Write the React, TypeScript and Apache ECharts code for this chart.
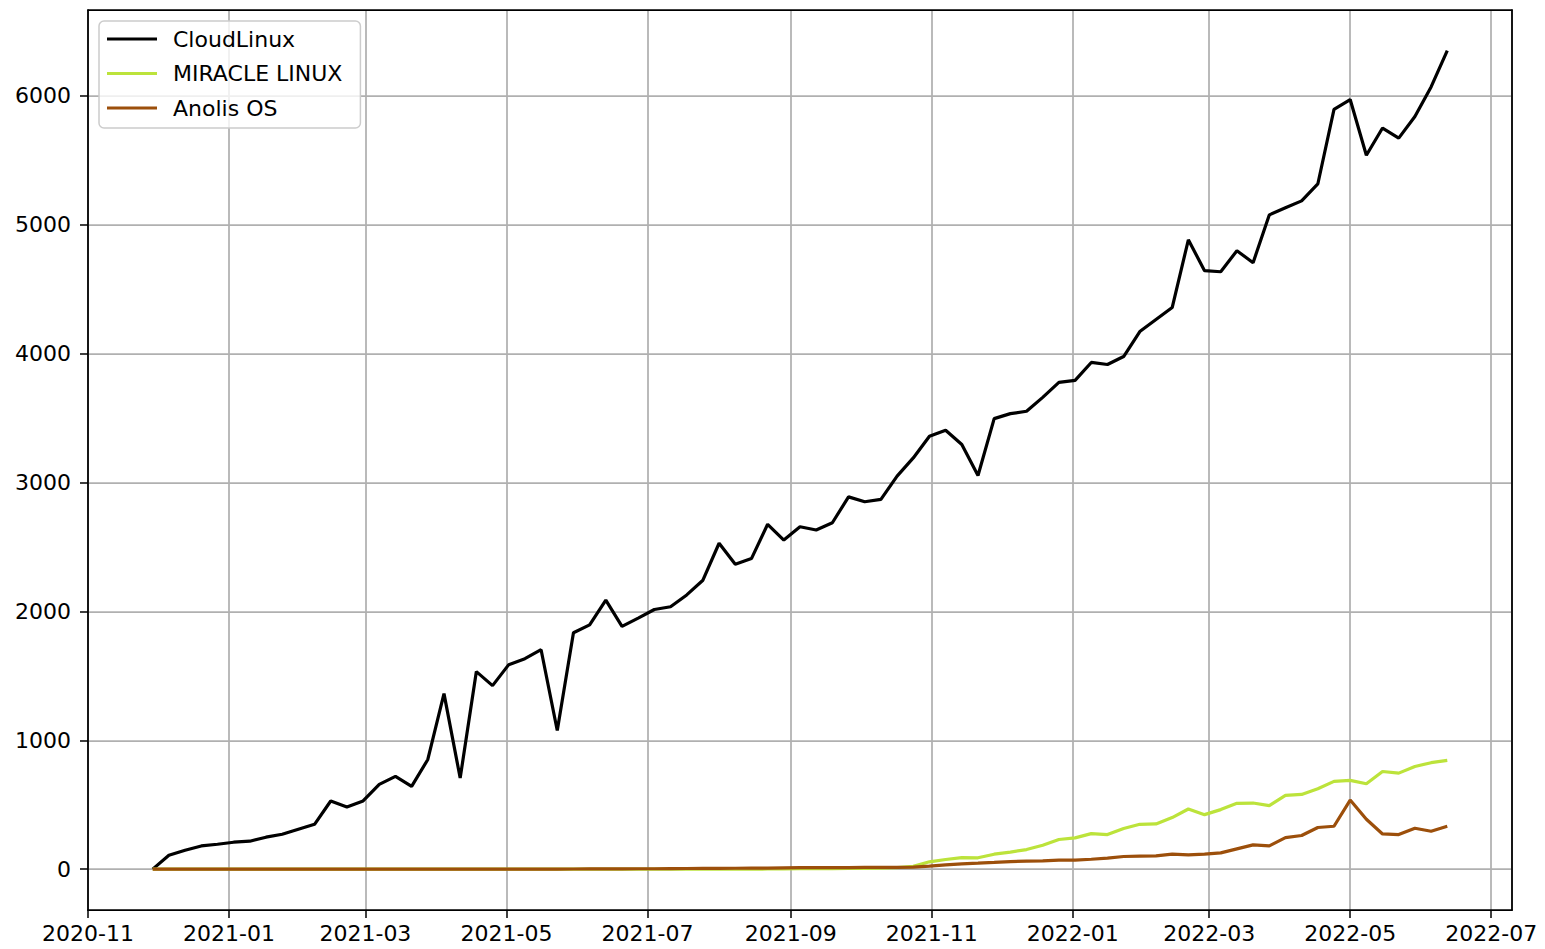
import React, { useEffect, useRef } from 'react';
import * as echarts from 'echarts';

const dates = [
  '2020-11-29', '2020-12-06', '2020-12-13', '2020-12-20', '2020-12-27',
  '2021-01-03', '2021-01-10', '2021-01-17', '2021-01-24', '2021-01-31',
  '2021-02-07', '2021-02-14', '2021-02-21', '2021-02-28',
  '2021-03-07', '2021-03-14', '2021-03-21', '2021-03-28',
  '2021-04-04', '2021-04-11', '2021-04-18', '2021-04-25',
  '2021-05-02', '2021-05-09', '2021-05-16', '2021-05-23', '2021-05-30',
  '2021-06-06', '2021-06-13', '2021-06-20', '2021-06-27',
  '2021-07-04', '2021-07-11', '2021-07-18', '2021-07-25',
  '2021-08-01', '2021-08-08', '2021-08-15', '2021-08-22', '2021-08-29',
  '2021-09-05', '2021-09-12', '2021-09-19', '2021-09-26',
  '2021-10-03', '2021-10-10', '2021-10-17', '2021-10-24', '2021-10-31',
  '2021-11-07', '2021-11-14', '2021-11-21', '2021-11-28',
  '2021-12-05', '2021-12-12', '2021-12-19', '2021-12-26',
  '2022-01-02', '2022-01-09', '2022-01-16', '2022-01-23', '2022-01-30',
  '2022-02-06', '2022-02-13', '2022-02-20', '2022-02-27',
  '2022-03-06', '2022-03-13', '2022-03-20', '2022-03-27',
  '2022-04-03', '2022-04-10', '2022-04-17', '2022-04-24',
  '2022-05-01', '2022-05-08', '2022-05-15', '2022-05-22', '2022-05-29',
  '2022-06-05', '2022-06-12',
];

const cloudLinux = [
  0, 108, 147, 180, 193, 209, 217, 248, 271, 310,
  348, 529, 482, 529, 658, 720, 642, 851, 1362, 707,
  1533, 1424, 1587, 1633, 1703, 1076, 1834, 1896, 2088, 1884,
  1948, 2015, 2036, 2128, 2242, 2529, 2366, 2410, 2676, 2554,
  2657, 2632, 2688, 2889, 2851, 2869, 3050, 3191, 3359, 3406,
  3295, 3055, 3496, 3535, 3553, 3661, 3777, 3793, 3932, 3916,
  3978, 4172, 4265, 4358, 4884, 4644, 4636, 4799, 4706, 5077,
  5132, 5186, 5317, 5896, 5972, 5540, 5751, 5673, 5840, 6070,
  6352,
];

const miracleLinux = [
  0, 0, 0, 0, 0, 0, 0, 0, 0, 0,
  0, 0, 0, 0, 0, 0, 0, 0, 0, 0,
  0, 0, 0, 0, 0, 0, 0, 0, 0, 0,
  0, 0, 0, 0, 0, 0, 0, 0, 1, 2,
  3, 3, 4, 5, 6, 8, 12, 22, 57, 75,
  90, 88, 116, 132, 152, 186, 230, 243, 276, 268,
  315, 348, 351, 400, 467, 423, 462, 511, 513, 493,
  573, 580, 624, 681, 689, 663, 758, 745, 797, 826,
  844,
];

const anolisOS = [
  0, 0, 0, 0, 0, 0, 0, 0, 0, 0,
  0, 0, 0, 0, 0, 0, 0, 0, 0, 0,
  0, 0, 0, 0, 0, 0, 1, 2, 2, 2,
  3, 3, 4, 5, 6, 6, 7, 8, 8, 10,
  12, 12, 12, 12, 13, 14, 14, 16, 23, 33,
  41, 46, 52, 59, 62, 64, 70, 70, 77, 85,
  98, 101, 103, 116, 111, 116, 126, 157, 188, 180,
  245, 261, 323, 333, 536, 387, 273, 268, 317, 294,
  333,
];

const seriesNames = ['CloudLinux', 'MIRACLE LINUX', 'Anolis OS'];
const seriesColors = ['#000000', '#bce33b', '#9c4f0b'];
const xRange = [new Date(2020, 10, 1).getTime(), new Date(2022, 6, 10).getTime()];
const yRange = [-317, 6667];

export default function App() {
  const ref = useRef<HTMLDivElement>(null);

  useEffect(() => {
    const chart = echarts.init(ref.current!, null, { renderer: 'svg' });
    const font = 'DejaVu Sans';
    const pair = (arr: number[]) => dates.map((d, i) => [d, arr[i]]);
    const allData = [cloudLinux, miracleLinux, anolisOS];
    const fmtDate = (v: number) => {
      const d = new Date(v);
      return `${d.getFullYear()}-${String(d.getMonth() + 1).padStart(2, '0')}`;
    };
    const frameLine = { show: true, onZero: false, lineStyle: { color: '#000', width: 1.75 } };

    chart.setOption({
      animation: false,
      backgroundColor: '#fff',
      grid: { left: 88, right: 33, top: 10, bottom: 39, outerBoundsMode: 'none' },
      legend: {
        orient: 'vertical',
        left: 99,
        top: 21,
        padding: [6, 18, 8, 8],
        itemWidth: 50,
        itemHeight: 3,
        itemGap: 10.5,
        icon: 'rect',
        backgroundColor: 'rgba(255,255,255,0.8)',
        borderColor: '#cccccc',
        borderWidth: 1.5,
        borderRadius: 5,
        textStyle: { fontFamily: font, fontSize: 22, color: '#000', padding: [0, 0, 0, 11], lineHeight: 24 },
        data: seriesNames,
      },
      xAxis: [
        {
          type: 'time',
          min: xRange[0],
          max: xRange[1],
          splitNumber: 8,
          axisLine: frameLine,
          axisTick: { show: true, length: 8, lineStyle: { color: '#000', width: 1.5 } },
          axisLabel: {
            fontFamily: font,
            fontSize: 22,
            color: '#000',
            margin: 12,
            formatter: fmtDate,
            hideOverlap: false,
          },
          splitLine: { show: true, lineStyle: { color: '#b0b0b0', width: 1.75 } },
        },
        {
          type: 'time',
          position: 'top',
          min: xRange[0],
          max: xRange[1],
          axisLine: frameLine,
          axisTick: { show: false },
          axisLabel: { show: false },
          splitLine: { show: false },
        },
      ],
      yAxis: [
        {
          type: 'value',
          min: yRange[0],
          max: yRange[1],
          splitNumber: 7,
          axisLine: frameLine,
          axisTick: { show: true, length: 8, lineStyle: { color: '#000', width: 1.5 } },
          axisLabel: {
            fontFamily: font,
            fontSize: 22,
            color: '#000',
            margin: 17,
            showMinLabel: false,
            showMaxLabel: false,
            formatter: (v: number) => (v % 1000 === 0 ? String(v) : ''),
          },
          splitLine: { show: true, showMinLine: false, showMaxLine: false, lineStyle: { color: '#b0b0b0', width: 1.75 } },
        },
        {
          type: 'value',
          position: 'right',
          min: yRange[0],
          max: yRange[1],
          axisLine: frameLine,
          axisTick: { show: false },
          axisLabel: { show: false },
          splitLine: { show: false },
        },
      ],
      series: seriesNames.map((name, k) => ({
        name,
        type: 'line',
        xAxisIndex: 0,
        yAxisIndex: 0,
        data: pair(allData[k]),
        showSymbol: false,
        symbol: 'none',
        color: seriesColors[k],
        lineStyle: { color: seriesColors[k], width: 3.2 },
        z: 3 + k,
      })),
    });

    return () => chart.dispose();
  }, []);

  return (
    <div
      ref={ref}
      style={{ position: 'fixed', left: 0, top: 0, width: 1545, height: 949, background: '#fff' }}
    />
  );
}
